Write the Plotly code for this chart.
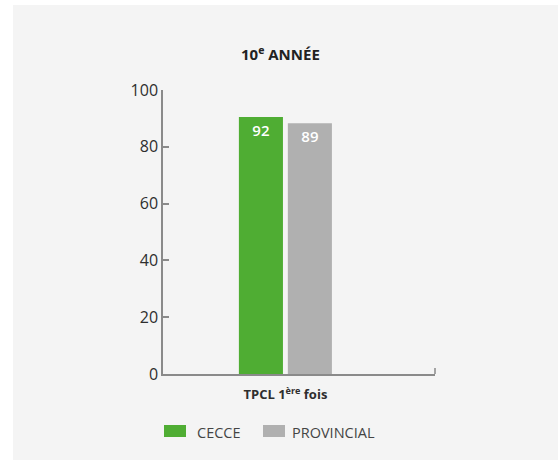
import plotly.graph_objects as go

# ---- data ----
title = "10<sup>e</sup> ANNÉE"
category = ["TPCL 1<sup>ère</sup> fois"]
series_names = ["CECCE", "PROVINCIAL"]
series_colors = ["#4fad33", "#b0b0b0"]
bar_heights = [90.5, 88.3]      # drawn height
bar_labels = ["92", "89"]       # label printed on each bar
y_ticks = [0, 20, 40, 60, 80, 100]

W, H = 560, 462
ML, MR, MT, MB = 163, 125, 90, 88
font = "Open Sans, Lato, sans-serif"
txt = "#2e2e2e"
axis_col = "#8a8a8a"

fig = go.Figure()
for name, col, h, lab in zip(series_names, series_colors, bar_heights, bar_labels):
    fig.add_trace(go.Bar(
        x=[0], y=[h], name=name, marker=dict(color=col, line=dict(width=0)),
        text=[lab], textposition="inside", insidetextanchor="end",
        textfont=dict(color="white", size=15, family=font, weight=600),
        showlegend=False, hoverinfo="skip",
    ))

def px_to_paper_x(px):
    return (px - ML) / (W - ML - MR)

def px_to_paper_y(py):
    return (H - MB - py) / (H - MT - MB)

shapes = []
# gray panel background
shapes.append(dict(type="rect", xref="paper", yref="paper", layer="below",
                   x0=px_to_paper_x(13), x1=px_to_paper_x(558),
                   y0=px_to_paper_y(460), y1=px_to_paper_y(5),
                   fillcolor="#f4f4f4", line=dict(width=0)))
# right end tick of x axis
shapes.append(dict(type="line", xref="paper", yref="paper",
                   x0=1, x1=1, y0=0, y1=px_to_paper_y(H - MB - 6),
                   line=dict(color=axis_col, width=1.5)))

annotations = [dict(text="<b>" + title + "</b>", xref="paper", yref="paper",
                    x=px_to_paper_x(280), y=px_to_paper_y(54),
                    xanchor="center", yanchor="middle", showarrow=False,
                    font=dict(size=15, color="#222", family=font))]

# legend drawn manually
leg = [(164, 195), (263, 290)]
for (sx, tx), name, col in zip(leg, series_names, series_colors):
    shapes.append(dict(type="rect", xref="paper", yref="paper",
                       x0=px_to_paper_x(sx), x1=px_to_paper_x(sx + 22),
                       y0=px_to_paper_y(437), y1=px_to_paper_y(425),
                       fillcolor=col, line=dict(width=0)))
    annotations.append(dict(text=name, xref="paper", yref="paper",
                            x=px_to_paper_x(tx), y=px_to_paper_y(432),
                            xanchor="left", yanchor="middle", showarrow=False,
                            font=dict(size=14.5, color="#444", family=font)))

fig.update_layout(
    width=W, height=H, margin=dict(l=ML, r=MR, t=MT, b=MB, pad=0),
    paper_bgcolor="white", plot_bgcolor="rgba(0,0,0,0)",
    barmode="group", bargap=0.64, bargroupgap=0.1,
    font=dict(family=font, color=txt),
    shapes=shapes, annotations=annotations,
    uniformtext=dict(minsize=15, mode="show"),
)
fig.update_xaxes(range=[-0.45, 0.55], tickvals=[0], ticktext=["<b>" + category[0] + "</b>"],
                 showline=True, linecolor=axis_col, linewidth=1.5, ticks="",
                 ticklabelstandoff=8,
                 showgrid=False, zeroline=False,
                 tickfont=dict(size=13, color=txt, family=font), fixedrange=True)
fig.update_yaxes(range=[0, 100], tickvals=y_ticks, ticks="inside", ticklen=6,
                 tickcolor=axis_col, tickwidth=1.5,
                 showline=True, linecolor=axis_col, linewidth=1.5,
                 showgrid=False, zeroline=False,
                 tickfont=dict(size=16, color=txt, family=font), fixedrange=True)

fig.write_html("out.html")
